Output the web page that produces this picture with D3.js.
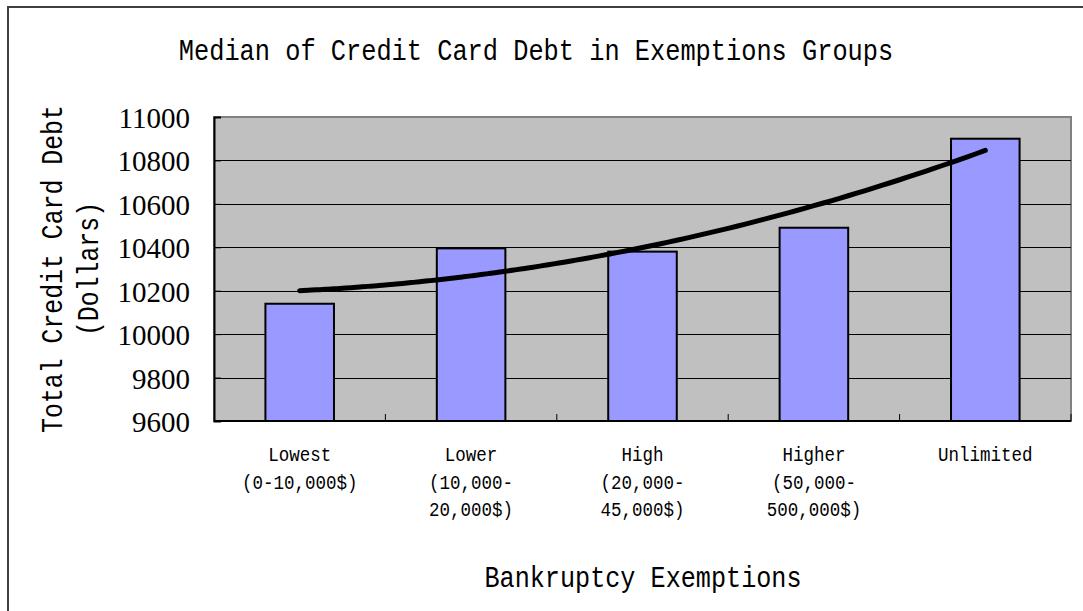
<!DOCTYPE html>
<html>
<head>
<meta charset="utf-8">
<script src="https://cdn.jsdelivr.net/npm/d3@7"></script>
<style>
  html, body { margin: 0; padding: 0; background: #fff; }
  svg { display: block; }
</style>
</head>
<body>
<svg id="chart" width="1083" height="611"></svg>
<script>
// Bankruptcy exemption groups (each label split into its printed lines)
const categoryLines = [
  ["Lowest", "(0-10,000$)"],
  ["Lower", "(10,000-", "20,000$)"],
  ["High", "(20,000-", "45,000$)"],
  ["Higher", "(50,000-", "500,000$)"],
  ["Unlimited"]
];
// Median credit card debt per group, dollars
const medianDebt = [10140, 10395, 10380, 10490, 10900];
// Value axis ticks
const yTicks = [9600, 9800, 10000, 10200, 10400, 10600, 10800, 11000];

const titleText = "Median of Credit Card Debt in Exemptions Groups";
const xTitleText = "Bankruptcy Exemptions";
const yTitleLines = ["Total Credit Card Debt", "(Dollars)"];

const svg = d3.select("#chart");
const plot = { left: 214, right: 1071, top: 117, bottom: 421 };

const monoFont = "'Liberation Mono', 'DejaVu Sans Mono', monospace";
const serifFont = "'Liberation Serif', 'DejaVu Serif', serif";

// Outer chart frame
svg.append("rect")
  .attr("x", 8).attr("y", 7).attr("width", 1200).attr("height", 700)
  .attr("fill", "#fff").attr("stroke", "#404040").attr("stroke-width", 2);

const idx = d3.range(medianDebt.length);
const x = d3.scaleBand().domain(idx).range([plot.left, plot.right]).padding(0);
const y = d3.scaleLinear().domain([yTicks[0], yTicks[yTicks.length - 1]]).range([plot.bottom, plot.top]);

// Plot background
svg.append("rect")
  .attr("x", plot.left).attr("y", plot.top)
  .attr("width", plot.right - plot.left).attr("height", plot.bottom - plot.top)
  .attr("fill", "#C0C0C0").attr("stroke", "#808080").attr("stroke-width", 2);

// Horizontal gridlines
svg.append("g")
  .selectAll("line")
  .data(yTicks.slice(1, -1))
  .join("line")
  .attr("x1", plot.left).attr("x2", plot.right)
  .attr("y1", d => Math.round(y(d)) + 0.5).attr("y2", d => Math.round(y(d)) + 0.5)
  .attr("stroke", "#000").attr("stroke-width", 1);

// Y axis with inward ticks
const yAxis = d3.axisLeft(y).tickValues(yTicks).tickSize(-7).tickFormat("");
const gy = svg.append("g").attr("transform", `translate(${plot.left},0)`).call(yAxis);
gy.select(".domain").attr("stroke", "#000").attr("stroke-width", 2);
gy.selectAll(".tick line").attr("stroke", "#000");

// Y tick labels
svg.append("g")
  .selectAll("text")
  .data(yTicks)
  .join("text")
  .attr("x", 190)
  .attr("y", d => y(d) + 11)
  .attr("text-anchor", "end")
  .attr("font-family", serifFont)
  .attr("font-size", 29)
  .attr("fill", "#000")
  .text(d => d);

// Bars
const barW = x.bandwidth() * 0.4;
svg.append("g")
  .selectAll("rect")
  .data(medianDebt)
  .join("rect")
  .attr("x", (d, i) => x(i) + (x.bandwidth() - barW) / 2)
  .attr("y", d => y(d))
  .attr("width", barW)
  .attr("height", d => y(yTicks[0]) - y(d))
  .attr("fill", "#9999FF")
  .attr("stroke", "#000")
  .attr("stroke-width", 2);

// X axis: boundaries between categories, ticks pointing inward
const gx = svg.append("g").attr("transform", `translate(0,${plot.bottom})`);
gx.append("line")
  .attr("x1", plot.left).attr("x2", plot.right)
  .attr("y1", 0).attr("y2", 0)
  .attr("stroke", "#000").attr("stroke-width", 2);
gx.selectAll("line.tick")
  .data(d3.range(1, medianDebt.length + 1))
  .join("line")
  .attr("class", "tick")
  .attr("x1", i => i < medianDebt.length ? x(i) : plot.right)
  .attr("x2", i => i < medianDebt.length ? x(i) : plot.right)
  .attr("y1", 0).attr("y2", -7)
  .attr("stroke", "#000");

// Second-order polynomial trendline (least squares fit of the medians)
function polyFit2(xs, ys) {
  const n = xs.length;
  let s = [0, 0, 0, 0, 0], t = [0, 0, 0];
  for (let k = 0; k < n; k++) {
    let p = 1;
    for (let j = 0; j <= 4; j++) { s[j] += p; if (j <= 2) t[j] += p * ys[k]; p *= xs[k]; }
  }
  const A = [[s[0], s[1], s[2], t[0]], [s[1], s[2], s[3], t[1]], [s[2], s[3], s[4], t[2]]];
  for (let c = 0; c < 3; c++) {
    for (let r = c + 1; r < 3; r++) {
      const f = A[r][c] / A[c][c];
      for (let k = c; k < 4; k++) A[r][k] -= f * A[c][k];
    }
  }
  const coef = [0, 0, 0];
  for (let r = 2; r >= 0; r--) {
    let v = A[r][3];
    for (let k = r + 1; k < 3; k++) v -= A[r][k] * coef[k];
    coef[r] = v / A[r][r];
  }
  return xv => coef[0] + coef[1] * xv + coef[2] * xv * xv;
}
const xs = idx.map(i => i + 1);
const trend = polyFit2(xs, medianDebt);
const xPos = d3.scaleLinear().domain([1, medianDebt.length])
  .range([x(0) + x.bandwidth() / 2, x(medianDebt.length - 1) + x.bandwidth() / 2]);
const trendPts = d3.range(1, medianDebt.length + 0.001, 0.05).map(v => [v, trend(v)]);
svg.append("path")
  .datum(trendPts)
  .attr("d", d3.line().x(d => xPos(d[0])).y(d => y(d[1])).curve(d3.curveMonotoneX))
  .attr("fill", "none")
  .attr("stroke", "#000")
  .attr("stroke-width", 5)
  .attr("stroke-linecap", "round");

// Category labels
const catG = svg.append("g");
categoryLines.forEach((lines, i) => {
  const cx = x(i) + x.bandwidth() / 2;
  lines.forEach((ln, j) => {
    catG.append("text")
      .attr("x", cx)
      .attr("y", 461 + j * 27.5)
      .attr("text-anchor", "middle")
      .attr("font-family", monoFont)
      .attr("font-size", 20)
      .attr("textLength", ln.length * 10.5)
      .attr("lengthAdjust", "spacingAndGlyphs")
      .attr("fill", "#000")
      .text(ln);
  });
});

// Chart title
svg.append("text")
  .attr("x", 536).attr("y", 60)
  .attr("text-anchor", "middle")
  .attr("font-family", monoFont)
  .attr("font-size", 30)
  .attr("textLength", titleText.length * 15.2)
  .attr("lengthAdjust", "spacingAndGlyphs")
  .attr("fill", "#000")
  .text(titleText);

// X axis title
svg.append("text")
  .attr("x", 643).attr("y", 587)
  .attr("text-anchor", "middle")
  .attr("font-family", monoFont)
  .attr("font-size", 30)
  .attr("textLength", xTitleText.length * 15.1)
  .attr("lengthAdjust", "spacingAndGlyphs")
  .attr("fill", "#000")
  .text(xTitleText);

// Y axis title (two rotated lines)
const yTitleX = [62, 98];
yTitleLines.forEach((ln, j) => {
  svg.append("text")
    .attr("transform", `translate(${yTitleX[j]},269) rotate(-90)`)
    .attr("text-anchor", "middle")
    .attr("font-family", monoFont)
    .attr("font-size", 30)
    .attr("textLength", ln.length * 14.9)
    .attr("lengthAdjust", "spacingAndGlyphs")
    .attr("fill", "#000")
    .text(ln);
});
</script>
</body>
</html>
